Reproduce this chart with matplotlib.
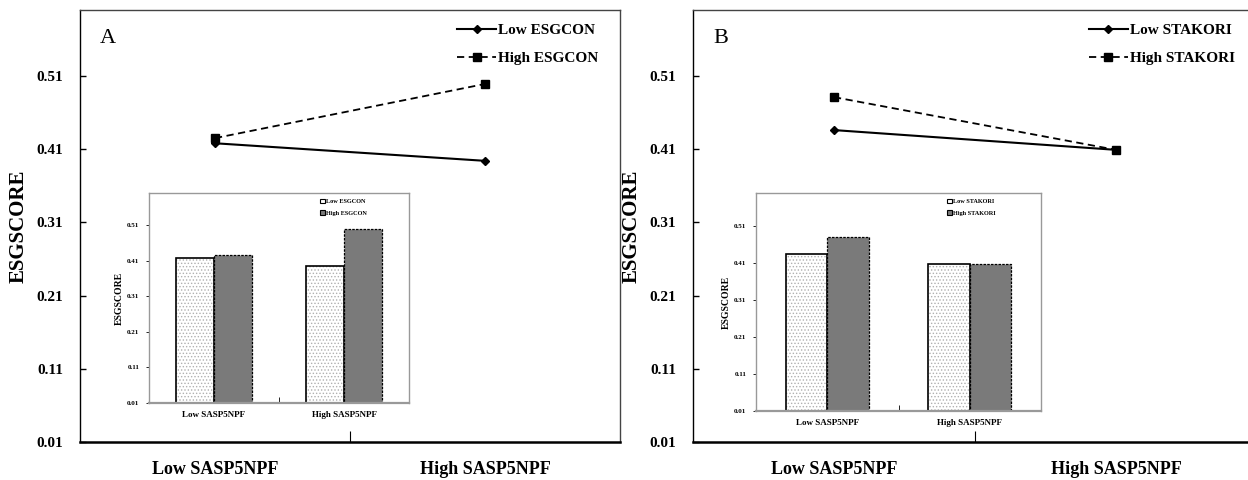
import numpy as np
import matplotlib
matplotlib.use("Agg")
import matplotlib.pyplot as plt
from matplotlib.patches import Patch

# data
groups = ['Low SASP5NPF', 'High SASP5NPF']
yticks = [0.01, 0.11, 0.21, 0.31, 0.41, 0.51]

a_low = [0.418, 0.394]    # Low ESGCON
a_high = [0.425, 0.499]   # High ESGCON
b_low = [0.436, 0.409]    # Low STAKORI
b_high = [0.481, 0.409]   # High STAKORI

plt.rcParams['font.family'] = ['Liberation Serif', 'DejaVu Serif']
plt.rcParams['hatch.linewidth'] = 0.6


def style_main(ax):
    ax.set_xlim(-0.5, 1.5)
    ax.set_ylim(0.01, 0.60)
    ax.set_yticks(yticks)
    ax.set_yticklabels(['%.2f' % v for v in yticks], fontweight='bold', fontsize=11)
    ax.tick_params(axis='y', direction='in', length=4, width=1, pad=12)
    ax.set_xticks([0, 1])
    ax.set_xticklabels(groups, fontweight='bold', fontsize=13)
    ax.tick_params(axis='x', which='major', length=0, pad=14)
    ax.set_xticks([0.5], minor=True)
    ax.tick_params(axis='x', which='minor', direction='in', length=8, width=0.8)
    ax.set_ylabel('ESGSCORE', fontweight='bold', fontsize=15, labelpad=6)
    for s in ['top', 'right']:
        ax.spines[s].set_color('#444')
        ax.spines[s].set_linewidth(1.0)
    ax.spines['left'].set_linewidth(1.0)
    ax.spines['bottom'].set_linewidth(1.8)


def draw_lines(ax, low, high, name, letter):
    x = np.arange(len(groups))
    ax.plot(x, low, color='black', lw=1.5, marker='D', markersize=4, label='Low ' + name)
    ax.plot(x, high, color='black', lw=1.3, ls=(0, (4, 2.5)), marker='s', markersize=6,
            label='High ' + name)
    ax.text(0.037, 0.935, letter, transform=ax.transAxes, fontsize=16, va='center')


def draw_inset(ax, low, high, name):
    x = np.arange(len(groups))
    w = 0.29
    ax.bar(x - w / 2, low, w, bottom=0, color='white', edgecolor='#b0b0b0', hatch='.....', lw=0)
    ax.bar(x - w / 2, low, w, fill=False, edgecolor='black', lw=1.2)
    ax.bar(x + w / 2, high, w, color='#7a7a7a', edgecolor='black', lw=0.9, ls=(0, (2, 1)))
    ax.set_xlim(-0.5, 1.5)
    ax.set_ylim(0.01, 0.60)
    ax.set_yticks(yticks)
    ax.set_yticklabels(['%.2f' % v for v in yticks], fontweight='bold', fontsize=5)
    ax.tick_params(axis='y', length=2, width=0.6, pad=5)
    ax.set_xticks([0, 1])
    ax.set_xticklabels(groups, fontweight='bold', fontsize=6.5)
    ax.tick_params(axis='x', which='major', length=0, pad=6)
    ax.set_xticks([0.5], minor=True)
    ax.tick_params(axis='x', which='minor', direction='in', length=4, width=0.6)
    ax.set_ylabel('ESGSCORE', fontweight='bold', fontsize=7, labelpad=2)
    for s in ax.spines.values():
        s.set_color('#999999')
        s.set_linewidth(1.0)
    ax.spines['bottom'].set_linewidth(1.6)
    handles = [Patch(facecolor='white', edgecolor='black', lw=0.8, label='Low ' + name),
               Patch(facecolor='#7a7a7a', edgecolor='black', lw=0.8, label='High ' + name)]
    ax.legend(handles=handles, loc='upper right', frameon=False, prop={'weight': 'bold', 'size': 4.5},
              handlelength=0.8, handleheight=0.8, handletextpad=0.2, labelspacing=1.0,
              bbox_to_anchor=(0.86, 1.0))


fig = plt.figure(figsize=(12.48, 4.8), dpi=100)

axA = fig.add_axes([80 / 1248, 38 / 480, 540 / 1248, 432 / 480])
axB = fig.add_axes([693 / 1248, 38 / 480, 564 / 1248, 432 / 480])

draw_lines(axA, a_low, a_high, 'ESGCON', 'A')
draw_lines(axB, b_low, b_high, 'STAKORI', 'B')
for ax in [axA, axB]:
    style_main(ax)
    ax.legend(loc='upper right', frameon=False, prop={'weight': 'bold', 'size': 11},
              handlelength=2.6, handletextpad=0.1, labelspacing=0.9,
              bbox_to_anchor=(0.985, 1.0))

insA = fig.add_axes([149 / 1248, 77 / 480, 260 / 1248, 210 / 480])
insB = fig.add_axes([756 / 1248, 69 / 480, 285 / 1248, 218 / 480])
draw_inset(insA, a_low, a_high, 'ESGCON')
draw_inset(insB, b_low, b_high, 'STAKORI')

fig.savefig('out.png', dpi=100)
